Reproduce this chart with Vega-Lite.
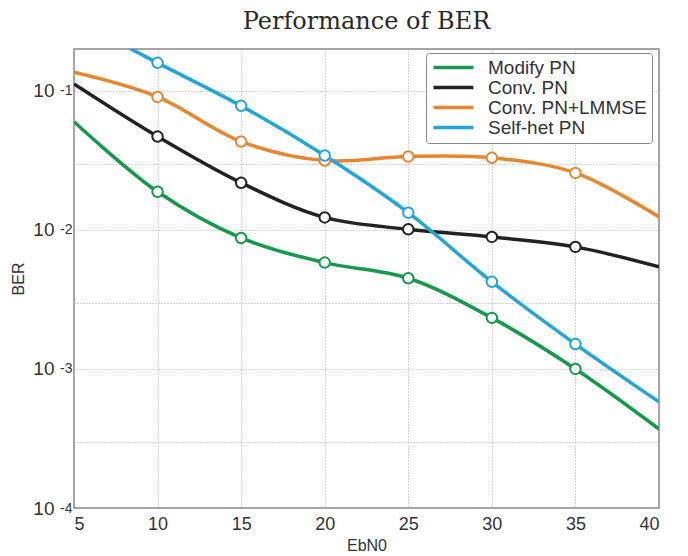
{
  "$schema": "https://vega.github.io/schema/vega-lite/v6.json",
  "autosize": "none",
  "width": 585,
  "height": 459,
  "padding": {"left": 74, "top": 49, "right": 29, "bottom": 48},
  "background": "white",
  "title": {"text": "Performance of BER", "font": "DejaVu Serif", "fontSize": 24, "fontWeight": "normal", "color": "#2a2a2a", "offset": 15, "anchor": "middle"},
  "config": {
    "view": {"stroke": "#888", "strokeWidth": 1.5},
    "axis": {"labelFont": "Liberation Sans", "titleFont": "Liberation Sans", "labelColor": "#333", "titleColor": "#333", "domain": false, "ticks": false, "gridColor": "#aaa", "gridDash": [1, 2], "gridWidth": 1, "titleFontWeight": "normal"}
  },
  "data": {"values": [
    {"s": "Modify PN", "x": 5, "y": 0.060},
    {"s": "Modify PN", "x": 10, "y": 0.0188},
    {"s": "Modify PN", "x": 15, "y": 0.00875},
    {"s": "Modify PN", "x": 20, "y": 0.00582},
    {"s": "Modify PN", "x": 25, "y": 0.00449},
    {"s": "Modify PN", "x": 30, "y": 0.00233},
    {"s": "Modify PN", "x": 35, "y": 0.00100},
    {"s": "Modify PN", "x": 40, "y": 0.00037},
    {"s": "Conv. PN", "x": 5, "y": 0.112},
    {"s": "Conv. PN", "x": 10, "y": 0.0469},
    {"s": "Conv. PN", "x": 15, "y": 0.0218},
    {"s": "Conv. PN", "x": 20, "y": 0.0123},
    {"s": "Conv. PN", "x": 25, "y": 0.0101},
    {"s": "Conv. PN", "x": 30, "y": 0.0089},
    {"s": "Conv. PN", "x": 35, "y": 0.00755},
    {"s": "Conv. PN", "x": 40, "y": 0.00542},
    {"s": "Conv. PN+LMMSE", "x": 5, "y": 0.136},
    {"s": "Conv. PN+LMMSE", "x": 10, "y": 0.0905},
    {"s": "Conv. PN+LMMSE", "x": 15, "y": 0.0432},
    {"s": "Conv. PN+LMMSE", "x": 20, "y": 0.0315},
    {"s": "Conv. PN+LMMSE", "x": 25, "y": 0.0337},
    {"s": "Conv. PN+LMMSE", "x": 30, "y": 0.0330},
    {"s": "Conv. PN+LMMSE", "x": 35, "y": 0.0257},
    {"s": "Conv. PN+LMMSE", "x": 40, "y": 0.0124},
    {"s": "Self-het PN", "x": 5, "y": 0.33},
    {"s": "Self-het PN", "x": 10, "y": 0.159},
    {"s": "Self-het PN", "x": 15, "y": 0.078},
    {"s": "Self-het PN", "x": 20, "y": 0.0343},
    {"s": "Self-het PN", "x": 25, "y": 0.0133},
    {"s": "Self-het PN", "x": 30, "y": 0.00423},
    {"s": "Self-het PN", "x": 35, "y": 0.00151},
    {"s": "Self-het PN", "x": 40, "y": 0.00058}
  ]},
  "resolve": {"axis": {"y": "independent"}},
  "layer": [
    {"mark": {"type": "line", "interpolate": "catmull-rom", "strokeWidth": 3.5, "clip": true},
     "encoding": {
       "x": {"field": "x", "type": "quantitative", "title": "EbN0",
         "scale": {"domain": [5, 40], "nice": false, "zero": false},
         "axis": {"values": [5, 10, 15, 20, 25, 30, 35, 40], "labelFontSize": 18, "labelPadding": 7, "titleFontSize": 16, "titlePadding": 4}},
       "y": {"field": "y", "type": "quantitative", "title": "BER",
         "scale": {"type": "log", "domain": [0.0001, 0.2], "nice": false},
         "axis": {"orient": "left", "values": [0.0001, 0.0003, 0.001, 0.003, 0.01, 0.03, 0.1],
           "labelExpr": "datum.value == 0.1 || datum.value == 0.01 || datum.value == 0.001 || datum.value == 0.0001 ? '10' : ''",
           "labelFontSize": 19, "labelPadding": 20, "labelBaseline": "middle", "labelDy": 2, "titleFontSize": 16, "titlePadding": 6}},
       "color": {"field": "s", "type": "nominal", "title": null,
       "scale": {"domain": ["Modify PN", "Conv. PN", "Conv. PN+LMMSE", "Self-het PN"], "range": ["#159a4c", "#222222", "#e8862d", "#22a5da"]},
       "legend": {"orient": "none", "legendX": 352, "legendY": 4, "symbolType": "M-1,0H4.7", "symbolSize": 196, "symbolStrokeWidth": 3.5, "labelFont": "Liberation Sans", "labelFontSize": 19, "labelColor": "#333", "rowPadding": -1, "labelOffset": 38, "padding": 5, "strokeColor": "#888", "fillColor": "white", "cornerRadius": 3, "labelLimit": 300}}}},
    {"transform": [{"filter": "datum.x >= 10 && datum.x <= 35"}],
     "mark": {"type": "point", "shape": "circle", "filled": true, "fill": "white", "size": 110, "strokeWidth": 2, "opacity": 1},
     "encoding": {
       "x": {"field": "x", "type": "quantitative"},
       "y": {"field": "y", "type": "quantitative", "title": null,
         "scale": {"type": "log", "domain": [0.0001, 0.2], "nice": false},
         "axis": {"orient": "left", "values": [0.0001, 0.001, 0.01, 0.1], "grid": false,
           "labelExpr": "datum.value == 0.1 ? '-1' : datum.value == 0.01 ? '-2' : datum.value == 0.001 ? '-3' : '-4'",
           "labelFontSize": 14, "labelPadding": 2, "labelBaseline": "middle", "labelDy": -7}},
       "stroke": {"field": "s", "type": "nominal", "legend": null,
       "scale": {"domain": ["Modify PN", "Conv. PN", "Conv. PN+LMMSE", "Self-het PN"], "range": ["#159a4c", "#222222", "#e8862d", "#22a5da"]}},
       "color": {"value": "white"}}}
  ]
}
